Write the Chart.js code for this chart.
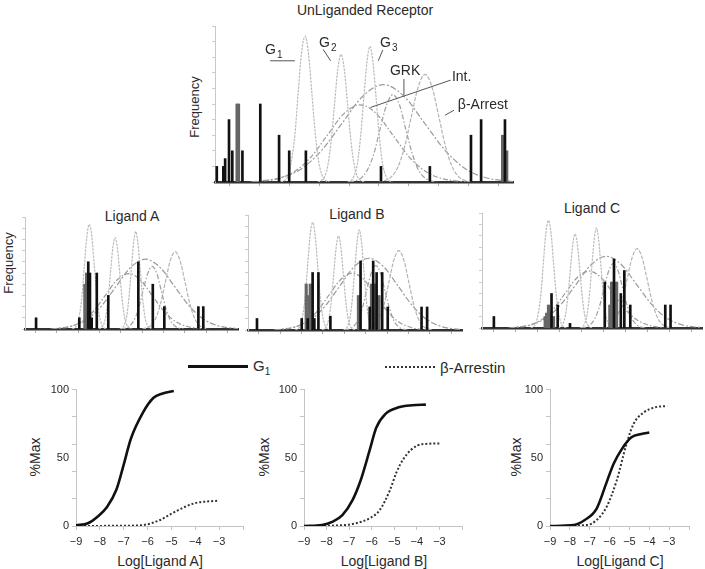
<!DOCTYPE html>
<html>
<head>
<meta charset="utf-8">
<script src="https://cdn.jsdelivr.net/npm/chart.js@4"></script>
<style>
body { margin: 0; background: #fff; width: 705px; height: 569px; position: relative; overflow: hidden;
       font-family: "Liberation Sans", Arial, sans-serif; color: #2a2a2a; }
canvas { position: absolute; }
.lbl { position: absolute; white-space: nowrap; font-size: 14px; transform: translate(-50%, -50%); }
.rot { transform: translate(-50%, -50%) rotate(-90deg); }
.leg { position: absolute; white-space: nowrap; font-size: 15px; transform: translateY(-50%); }
.leg sub { font-size: 10px; }
</style>
</head>
<body>
<div class="lbl" style="left:365px;top:10px">UnLiganded Receptor</div>
<div class="lbl rot" style="left:194px;top:107px;font-size:13px">Frequency</div>
<div class="lbl rot" style="left:8px;top:263px;font-size:13px">Frequency</div>
<div class="lbl" style="left:132px;top:216px">Ligand A</div>
<div class="lbl" style="left:357px;top:214px">Ligand B</div>
<div class="lbl" style="left:592px;top:208px">Ligand C</div>

<div style="position:absolute;left:188px;top:365px;width:60px;border-top:3px solid #111"></div>
<div class="leg" style="left:253px;top:367px">G<sub>1</sub></div>
<div style="position:absolute;left:385px;top:366px;width:50px;border-top:2px dotted #333"></div>
<div class="leg" style="left:440px;top:367px">β-Arrestin</div>

<div class="lbl rot" style="left:35px;top:457px">%Max</div>
<div class="lbl rot" style="left:264px;top:457px">%Max</div>
<div class="lbl rot" style="left:516px;top:457px">%Max</div>
<div class="lbl" style="left:160px;top:561px">Log[Ligand A]</div>
<div class="lbl" style="left:384px;top:561px">Log[Ligand B]</div>
<div class="lbl" style="left:620px;top:561px">Log[Ligand C]</div>

<script>
// ---- receptor state distributions (x: conformation axis 0-10, y: frequency 0-10) ----
const curveG1 = [[2.2,0],[2.33,0.1],[2.45,0.4],[2.56,1.3],[2.68,3.0],[2.79,5.7],[2.9,8.2],[3.02,9.35],[3.14,8.2],[3.25,5.7],[3.37,3.0],[3.48,1.3],[3.6,0.4],[3.71,0.1],[3.84,0]];
const curveG2 = [[3.45,0],[3.57,0.1],[3.68,0.35],[3.79,1.1],[3.9,2.65],[4.01,4.95],[4.12,7.2],[4.23,8.17],[4.34,7.2],[4.45,4.95],[4.56,2.65],[4.67,1.1],[4.78,0.35],[4.89,0.1],[5.01,0]];
const curveG3 = [[4.45,0],[4.57,0.1],[4.67,0.4],[4.78,1.2],[4.88,2.8],[4.99,5.3],[5.1,7.7],[5.2,8.7],[5.3,7.7],[5.41,5.3],[5.52,2.8],[5.62,1.2],[5.73,0.4],[5.83,0.1],[5.95,0]];
const curveGRK = [[4.5,0],[4.68,0.06],[4.9,0.25],[5.11,0.76],[5.33,1.8],[5.54,3.4],[5.76,4.95],[5.97,5.6],[6.19,4.95],[6.4,3.4],[6.62,1.8],[6.83,0.76],[7.05,0.25],[7.26,0.06],[7.45,0]];
const curveArr = [[5.5,0],[5.67,0.08],[5.9,0.3],[6.13,0.93],[6.36,2.24],[6.59,4.2],[6.82,6.1],[7.05,6.9],[7.28,6.1],[7.51,4.2],[7.74,2.24],[7.97,0.93],[8.2,0.3],[8.43,0.08],[8.6,0]];
const curveBroad1 = [[1.2,0],[1.51,0.07],[2.2,0.27],[2.89,0.84],[3.58,2.03],[4.27,3.78],[4.96,5.5],[5.65,6.24],[6.34,5.5],[7.03,3.78],[7.72,2.03],[8.41,0.84],[9.1,0.27],[9.79,0.07],[10,0.03]];
const curveInt = [[1.3,0],[1.57,0.05],[2.12,0.22],[2.67,0.67],[3.22,1.6],[3.77,3.0],[4.32,4.37],[4.87,4.95],[5.42,4.37],[5.97,3.0],[6.52,1.6],[7.07,0.67],[7.62,0.22],[8.17,0.05],[8.5,0]];

// bars: [position, frequency]
const unligBlack = [[0.06,1],[0.28,1],[0.34,1.5],[0.47,4],[0.58,2],[0.92,2],[1.52,5],[2.15,3],[2.49,2],[3.05,2],[5.57,1],[7.21,1],[8.59,3],[8.93,4],[9.73,4]];
const unligGray = [[0.74,5],[0.79,5],[9.65,3],[9.79,2]];
const ligABlack = [[0.52,1],[2.55,1],[2.97,6],[3.05,5],[3.13,1],[3.37,5],[3.91,3],[5.32,6],[6.0,4],[6.54,2],[8.14,2],[8.37,2]];
const ligAGray = [[2.81,4],[2.89,5]];
const ligBBlack = [[0.42,1],[2.51,1],[2.79,1],[3.02,5],[3.1,1],[3.29,5],[3.85,1.2],[5.26,6],[5.69,2],[5.85,6],[6.01,5],[6.27,5],[6.53,2],[8.11,2],[8.37,2]];
const ligBGray = [[2.72,4],[2.84,3],[2.91,4],[5.16,3],[5.77,4],[5.94,4],[6.12,3]];
const ligCBlack = [[0.54,1],[3.16,3],[3.44,2],[4.0,0.4],[5.58,4],[6.0,6],[6.31,3],[6.47,5],[6.74,2],[8.33,2],[8.57,2]];
const ligCGray = [[2.87,1],[2.94,1.3],[3.02,2],[3.1,1.3],[3.25,1],[5.81,2],[5.89,4],[6.12,4]];

// labels on the unliganded panel (data units)
const annoLines = [
    [[1.85,7.77],[2.68,7.77]], [[3.63,8.5],[3.88,7.77]], [[5.63,8.46],[5.48,7.77]],
    [[6.34,6.6],[6.34,5.57]], [[7.91,6.53],[5.22,4.78]], [[7.72,4.28],[8.02,4.6]]
];
const annoTexts = [
    { text: 'G', sub: '1', x: 1.68, y: 8.46 }, { text: 'G', sub: '2', x: 3.49, y: 8.88 },
    { text: 'G', sub: '3', x: 5.54, y: 8.88 }, { text: 'GRK', x: 5.87, y: 7.11 },
    { text: 'Int.', x: 7.95, y: 6.69 }, { text: 'β-Arrest', x: 8.15, y: 4.93 }
];

// ---- concentration-response (x: log[ligand], y: %Max) ----
const aG1X = [-9,-8.5,-8.1,-7.7,-7.3,-7.0,-6.7,-6.2,-5.75,-5.4,-4.9];
const aG1Y = [0.5,2,6.8,14,27,45,64,83,94,97,99];
const aArrX = [-9,-7,-6.2,-5.5,-5.0,-4.5,-4.0,-3.5,-3.0];
const aArrY = [0,0.2,0.7,4.2,9,13.5,16.8,18,18.5];
const bG1X = [-9,-8.2,-7.75,-7.3,-6.85,-6.5,-6.1,-5.8,-5.4,-4.8,-4.2,-3.6];
const bG1Y = [0,0.7,3,8,19,33,55,72,82,87,88.5,89];
const bArrX = [-9,-7.4,-6.7,-6.1,-5.65,-5.2,-4.9,-4.6,-4.25,-3.75,-3.0];
const bArrY = [0,0.5,2,5.6,11.6,26,39.5,49,56,60,60.5];
const cG1X = [-9,-7.8,-7.25,-6.65,-6.15,-5.8,-5.4,-4.9,-4.4,-4.0];
const cG1Y = [0,0.7,4.4,12.8,32,45.5,56,65,67.5,68.5];
const cArrX = [-9,-7.15,-6.65,-6.15,-5.65,-5.15,-4.8,-4.3,-3.7,-3.1];
const cArrY = [0,0.7,4.4,14,33,60,74.6,83,87,88];
const yTicks = [0, 20, 40, 50, 60, 80, 100];
const yLabels = [0, 50, 100];

const FONT = '"Liberation Sans", Arial, sans-serif';
Chart.defaults.font.family = FONT;
Chart.defaults.animation = false;

function makeCanvas(rect, m) {
    const c = document.createElement('canvas');
    const left = rect.L - m.l, top = rect.T - m.t;
    c.width = rect.R - rect.L + m.l + m.r;
    c.height = rect.B - rect.T + m.t + m.b;
    c.style.left = left + 'px';
    c.style.top = top + 'px';
    document.body.appendChild(c);
    return c;
}

const toPts = arr => arr.map(p => ({ x: p[0], y: p[1] }));

function curveSet(data, color, dash) {
    return {
        type: 'line', data: toPts(data), borderColor: color, borderWidth: 1.2,
        borderDash: dash, pointRadius: 0, cubicInterpolationMode: 'monotone', order: 2
    };
}

const annoPlugin = {
    id: 'anno',
    afterDatasetsDraw(chart) {
        const { ctx, scales: { x, y } } = chart;
        ctx.save();
        ctx.strokeStyle = '#555';
        ctx.lineWidth = 1;
        annoLines.forEach(l => {
            ctx.beginPath();
            ctx.moveTo(x.getPixelForValue(l[0][0]), y.getPixelForValue(l[0][1]));
            ctx.lineTo(x.getPixelForValue(l[1][0]), y.getPixelForValue(l[1][1]));
            ctx.stroke();
        });
        ctx.fillStyle = '#2a2a2a';
        ctx.textBaseline = 'middle';
        annoTexts.forEach(t => {
            const px = x.getPixelForValue(t.x), py = y.getPixelForValue(t.y);
            ctx.font = '14px ' + FONT;
            ctx.fillText(t.text, px, py);
            if (t.sub) {
                const w = ctx.measureText(t.text).width;
                ctx.font = '10px ' + FONT;
                ctx.fillText(t.sub, px + w + 1, py + 5);
            }
        });
        ctx.restore();
    }
};

function distChart(rect, blacks, grays, withAnno) {
    const m = { l: 8, t: 6, r: 4, b: 8 };
    const canvas = makeCanvas(rect, m);
    new Chart(canvas, {
        type: 'bar',
        data: {
            datasets: [
                { data: toPts(blacks), backgroundColor: '#111', barThickness: 2, grouped: false, order: 0 },
                { data: toPts(grays), backgroundColor: '#666', barThickness: 2.5, grouped: false, order: 1 },
                curveSet(curveG1, '#bcbcbc', [2.5, 1]),
                curveSet(curveG2, '#bcbcbc', [2.5, 1]),
                curveSet(curveG3, '#bcbcbc', [2.5, 1]),
                curveSet(curveGRK, '#a0a0a0', [5, 2, 1.5, 2]),
                curveSet(curveArr, '#b4b4b4', [4, 1.5]),
                curveSet(curveBroad1, '#9a9a9a', [6, 2, 2, 2]),
                curveSet(curveInt, '#9a9a9a', [5, 2, 1.5, 2])
            ]
        },
        options: {
            responsive: false,
            layout: { padding: { top: m.t, right: m.r }, autoPadding: false },
            plugins: { legend: { display: false }, tooltip: { enabled: false } },
            scales: {
                x: {
                    type: 'linear', min: 0, max: 10, offset: false,
                    ticks: { stepSize: 1, display: false },
                    grid: { drawOnChartArea: false, tickLength: 4, color: '#aaa' },
                    border: { color: '#333', width: 2.5 },
                    afterFit: s => { s.height = m.b; }
                },
                y: {
                    min: 0, max: 10,
                    ticks: { stepSize: 1, display: false },
                    grid: { drawOnChartArea: false, tickLength: 3, color: '#ccc' },
                    border: { color: '#c8c8c8', width: 1 },
                    afterFit: s => { s.width = m.l; }
                }
            }
        },
        plugins: withAnno ? [annoPlugin] : []
    });
}

function doseChart(rect, g1x, g1y, arrX, arrY) {
    const m = { l: 40, t: 8, r: 6, b: 26 };
    const canvas = makeCanvas(rect, m);
    new Chart(canvas, {
        type: 'line',
        data: {
            datasets: [
                { data: g1x.map((v, i) => ({ x: v, y: g1y[i] })), borderColor: '#111', borderWidth: 2.6,
                  pointRadius: 0, cubicInterpolationMode: 'monotone' },
                { data: arrX.map((v, i) => ({ x: v, y: arrY[i] })), borderColor: '#333', borderWidth: 2,
                  borderDash: [2, 2], pointRadius: 0, cubicInterpolationMode: 'monotone' }
            ]
        },
        options: {
            responsive: false,
            layout: { padding: { top: m.t, right: m.r }, autoPadding: false },
            plugins: { legend: { display: false }, tooltip: { enabled: false } },
            scales: {
                x: {
                    type: 'linear', min: -9, max: -2,
                    ticks: { stepSize: 1, padding: 5, color: '#2a2a2a', font: { size: 11 },
                             callback: v => v === -2 ? '' : '\u2212' + Math.abs(v) },
                    grid: { drawOnChartArea: false, tickLength: 4, color: '#c4c4c4' },
                    border: { color: '#c4c4c4', width: 1 },
                    afterFit: s => { s.height = m.b; }
                },
                y: {
                    min: 0, max: 100,
                    afterBuildTicks: s => { s.ticks = yTicks.map(v => ({ value: v })); },
                    ticks: { padding: 3, color: '#2a2a2a', font: { size: 11 },
                             callback: v => yLabels.includes(v) ? String(v) : '' },
                    grid: { drawOnChartArea: false, tickLength: 4,
                            color: c => (c.tick && c.tick.value === 50) ? 'rgba(0,0,0,0)' : '#c4c4c4' },
                    border: { color: '#c4c4c4', width: 1 },
                    afterFit: s => { s.width = m.l; }
                }
            }
        }
    });
}

distChart({ L: 215, T: 26, R: 513, B: 182 }, unligBlack, unligGray, true);
distChart({ L: 25, T: 217, R: 238, B: 329 }, ligABlack, ligAGray, false);
distChart({ L: 248, T: 215, R: 462, B: 330 }, ligBBlack, ligBGray, false);
distChart({ L: 482, T: 213, R: 702, B: 328 }, ligCBlack, ligCGray, false);

doseChart({ L: 76, T: 388, R: 243, B: 526 }, aG1X, aG1Y, aArrX, aArrY);
doseChart({ L: 304, T: 388, R: 462, B: 526 }, bG1X, bG1Y, bArrX, bArrY);
doseChart({ L: 550, T: 388, R: 689, B: 526 }, cG1X, cG1Y, cArrX, cArrY);
</script>
</body>
</html>
